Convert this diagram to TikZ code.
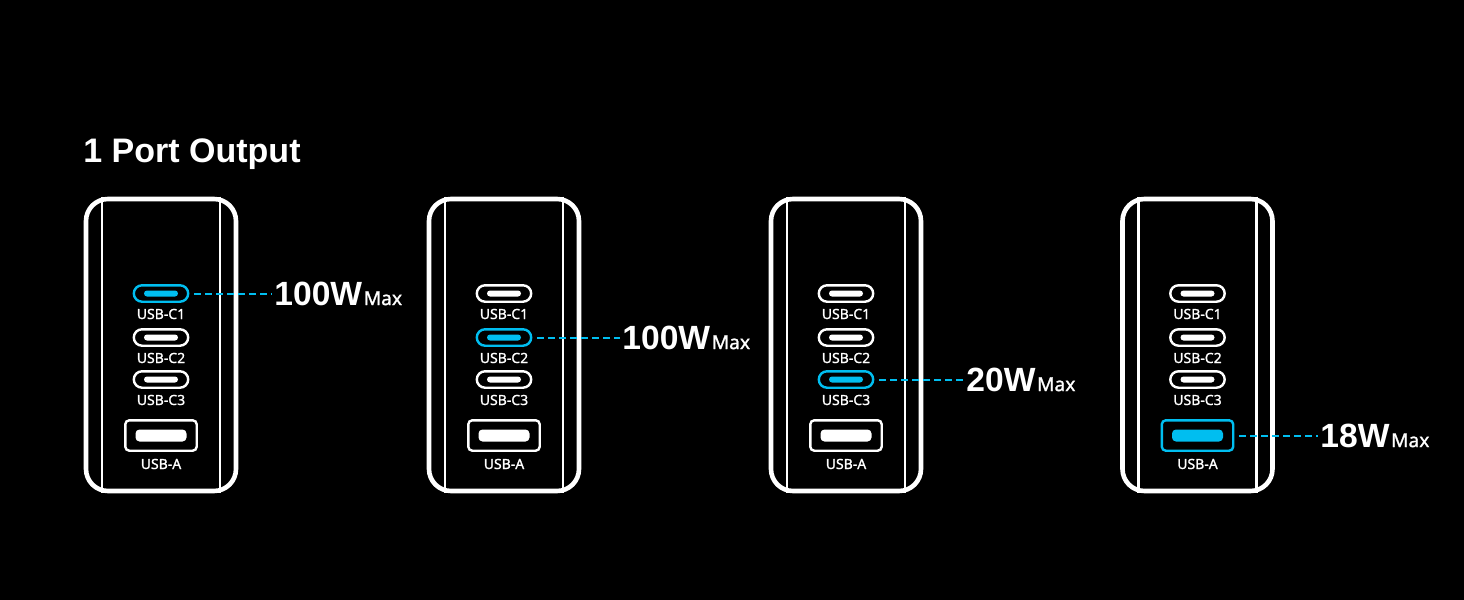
\documentclass[tikz,border=0pt]{standalone}
\usepackage{fontspec}
\setmainfont{Noto Sans}
\newfontfamily\headfont{Liberation Sans}
\newfontfamily\maxfont{Noto Sans}[FakeBold=1.2]
\definecolor{hl}{RGB}{0,190,240}
\tikzset{
  body/.style={draw=white, line width=2.3pt, minimum width=75pt, minimum height=146pt, rounded corners=11pt, inner sep=0pt},
  rail/.style={white, line width=1.3pt},
  cport/.style={draw=#1, line width=1.2pt, minimum width=27.2pt, minimum height=8.2pt, rounded corners=4.1pt, inner sep=0pt,
    path picture={\fill[#1, rounded corners=1.5pt] ([shift={(-8.5pt,-1.5pt)}]path picture bounding box.center) rectangle ++(17pt,3pt);}},
  aport/.style={draw=#1, line width=1.2pt, minimum width=35.7pt, minimum height=15.2pt, rounded corners=2pt, inner sep=0pt,
    path picture={\fill[#1] ([shift={(-12.75pt,-3pt)}]path picture bounding box.center) rectangle ++(25.5pt,6pt);}},
  plabel/.style={text=white, font=\maxfont\fontsize{7}{8}\selectfont, inner sep=0pt},
  watt/.style={text=white, font=\headfont\fontsize{16.8}{18}\selectfont\bfseries, inner sep=1pt},
  link/.style={hl, line width=1pt, dash pattern=on 3.5pt off 2pt, shorten <=2.5pt},
  title/.style={text=white, font=\headfont\fontsize{17}{20}\selectfont\bfseries, inner sep=0pt}
}
\begin{document}
\begin{tikzpicture}[x=0.5pt, y=-0.5pt]
\fill[black] (0,0) rectangle (1464,600);
\useasboundingbox (0,0) rectangle (1464,600);
\node[title, anchor=base west] (head) at (83,162) {1 Port Output};
\foreach \i/\x/\h/\lx/\w in {1/161/1/272/100W, 2/504/2/620/100W, 3/846/3/964/20W, 4/1197.5/4/1318/18W}{
  \node[body] (b\i) at (\x,345) {};
  \draw[rail] ([xshift=-29.5pt]b\i.north) -- ([xshift=-29.5pt]b\i.south);
  \draw[rail] ([xshift=29.5pt]b\i.north) -- ([xshift=29.5pt]b\i.south);
  \foreach \k/\y in {1/293.5, 2/337.5, 3/379.5}{
    \ifnum\k=\h \def\col{hl}\else\def\col{white}\fi
    \node[cport=\col] (c\k-\i) at (\x,\y) {};
    \node[plabel] (lc\k-\i) at (\x,\y+20.5) {USB-C\k};
  }
  \ifnum\h=4 \def\col{hl}\else\def\col{white}\fi
  \node[aport=\col] (c4-\i) at (\x,435.5) {};
  \node[plabel] (la-\i) at (\x,464) {USB-A};
  \coordinate (t\i) at (\lx,0);
  \node[watt, anchor=west] (w\i) at (c\h-\i -| t\i) {\w\kern0.8pt{\maxfont\fontsize{9.6}{10}\selectfont\mdseries Max}};
  \draw[link] (c\h-\i) -- (w\i);
}
\end{tikzpicture}
\end{document}
